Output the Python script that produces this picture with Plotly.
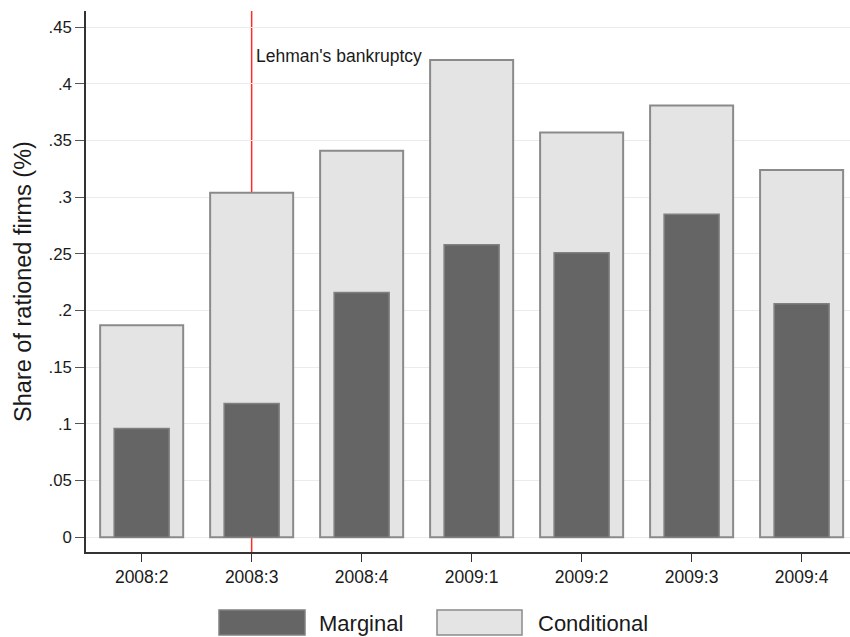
import plotly.graph_objects as go

# Share of rationed firms by quarter
quarters = ["2008:2", "2008:3", "2008:4", "2009:1", "2009:2", "2009:3", "2009:4"]
conditional = [0.187, 0.304, 0.341, 0.421, 0.357, 0.381, 0.324]
marginal = [0.096, 0.118, 0.216, 0.258, 0.251, 0.285, 0.206]
series_names = ["Marginal", "Conditional"]
y_ticks = [0, 0.05, 0.1, 0.15, 0.2, 0.25, 0.3, 0.35, 0.4, 0.45]
y_tick_text = ["0", ".05", ".1", ".15", ".2", ".25", ".3", ".35", ".4", ".45"]
event_quarter = "2008:3"
event_label = "Lehman's bankruptcy"

W, H = 850, 637
ML, MR, MT, MB = 86, 0, 11, 85
FONT = "Liberation Sans, Arial, sans-serif"
TXT = "#1a1a1a"
dark_fill, dark_line = "#656565", "#808080"
light_fill, light_line = "#e4e4e4", "#8a8a8a"

x_idx = list(range(len(quarters)))
fig = go.Figure()
fig.add_trace(go.Bar(x=x_idx, y=conditional, name=series_names[1], width=0.755,
                     marker=dict(color=light_fill, line=dict(color=light_line, width=2))))
fig.add_trace(go.Bar(x=x_idx, y=marginal, name=series_names[0], width=0.5,
                     marker=dict(color=dark_fill, line=dict(color=dark_line, width=1.5))))

# vertical event marker
ev = quarters.index(event_quarter)
fig.add_shape(type="line", xref="x", yref="paper", x0=ev, x1=ev, y0=0, y1=1,
              line=dict(color="#ff2a2a", width=1.5), layer="below")
fig.add_annotation(x=ev, y=0.425, xref="x", yref="y", text=event_label, showarrow=False,
                   xanchor="left", yanchor="middle", xshift=2,
                   font=dict(family=FONT, size=17.5, color=TXT))

# legend drawn in pixel space below the plot
pw = W - ML - MR
ph = H - MT - MB
def px_x(px):
    return (px - ML) / pw
def px_y(py):
    return (H - MB - py) / ph

legend_items = [
    (series_names[0], dark_fill, dark_line, 219, 305, 317),
    (series_names[1], light_fill, light_line, 437, 522, 536),
]
for name, fill, line, x0, x1, tx in legend_items:
    fig.add_shape(type="rect", xref="paper", yref="paper",
                  x0=px_x(x0), x1=px_x(x1), y0=px_y(635), y1=px_y(610),
                  fillcolor=fill, line=dict(color=line, width=1.5))
    fig.add_annotation(xref="paper", yref="paper", x=px_x(tx), y=px_y(623),
                       text=name, showarrow=False, xanchor="left", yanchor="middle",
                       font=dict(family=FONT, size=22, color=TXT))

fig.update_layout(
    width=W, height=H,
    margin=dict(l=ML, r=MR, t=MT, b=MB),
    barmode="overlay",
    showlegend=False,
    plot_bgcolor="white", paper_bgcolor="white",
    font=dict(family=FONT, color=TXT),
    xaxis=dict(range=[-0.506, 6.44], tickmode="array", tickvals=x_idx, ticktext=quarters,
               showgrid=False, zeroline=False, showline=True, linecolor="#333333", linewidth=1.5,
               ticks="outside", ticklen=8, tickwidth=1.3, tickcolor="#333333",
               tickfont=dict(size=17.5, family=FONT)),
    yaxis=dict(range=[-0.013, 0.4643], tickmode="array", tickvals=y_ticks, ticktext=y_tick_text,
               showgrid=True, gridcolor="#ebebeb", gridwidth=1.2, zeroline=False,
               showline=True, linecolor="#333333", linewidth=1.5,
               ticks="outside", ticklen=9, tickwidth=1.3, tickcolor="#555555",
               tickfont=dict(size=16.8, family=FONT),
               title=dict(text="Share of rationed firms (%)", font=dict(size=23.5, family=FONT),
                          standoff=10)),
)

fig.write_html("out.html")
